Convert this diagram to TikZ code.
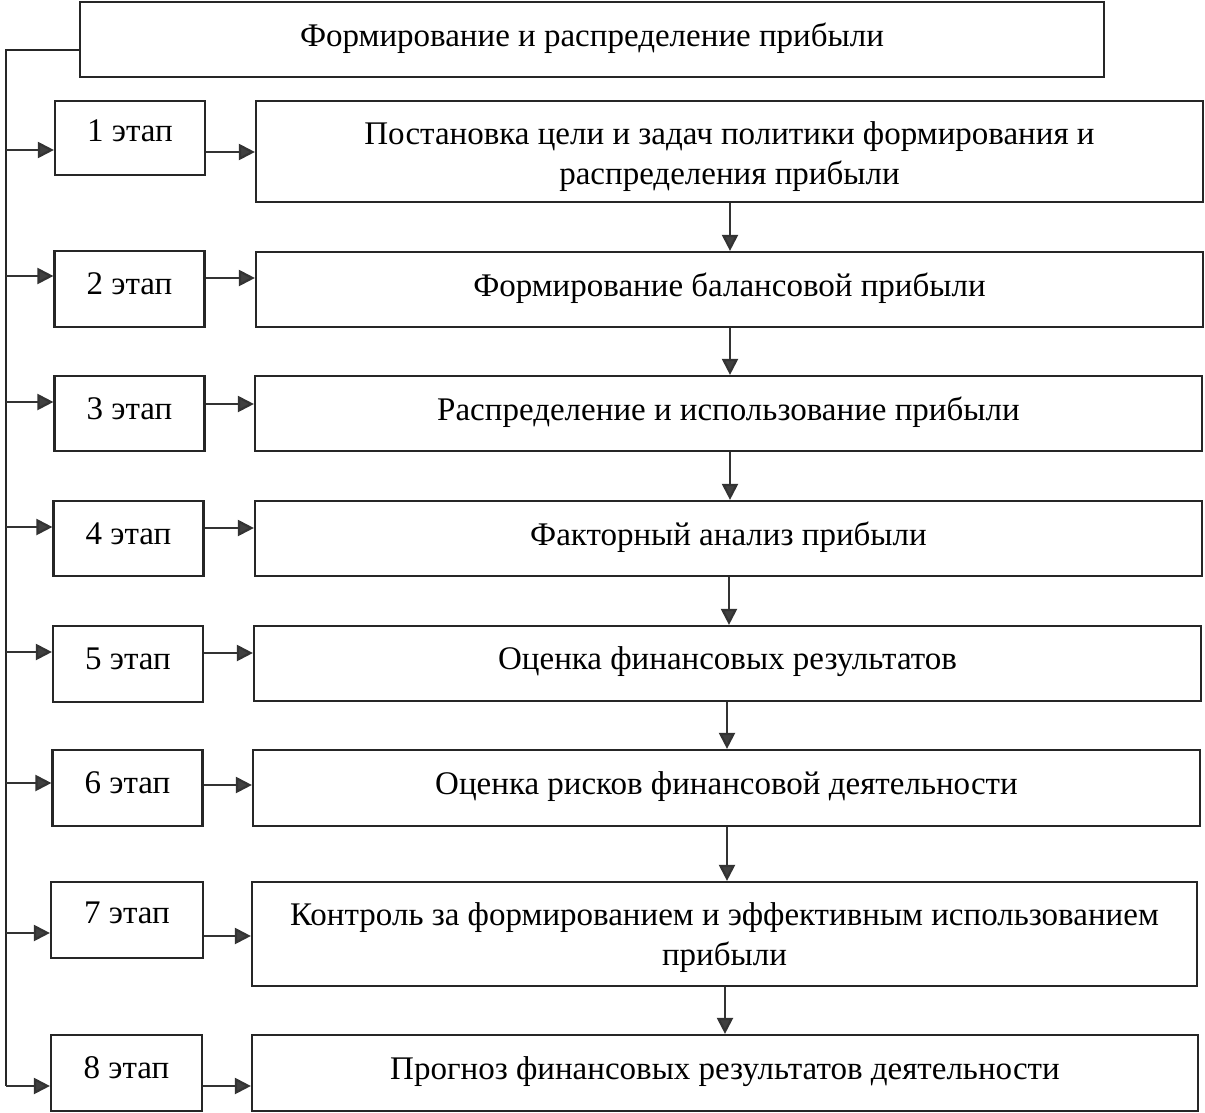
\documentclass[tikz,border=0pt]{standalone}
\usepackage{fontspec}
\setmainfont{Liberation Serif}
\usetikzlibrary{arrows.meta,calc}
\newcommand{\lowertext}[2]{\raisebox{-#1}[\height][\depth]{\begin{tabular}{@{}c@{}}#2\end{tabular}}}
\begin{document}
\begin{tikzpicture}[x=1pt,y=-1pt,
  box/.style={draw=black!85,line width=2.2pt,inner sep=0pt,font=\fontsize{33}{40}\selectfont,align=center},
  stagebox/.style={box,minimum width=150pt,minimum height=75pt},
  mainbox/.style={box,minimum width=947pt},
  arr/.style={line width=2.2pt,draw=black!80,-{Triangle[length=16pt,width=16pt,fill=black!75]}},
  ln/.style={line width=2.2pt,draw=black!85}]
\useasboundingbox (0,0) rectangle (1205,1113);
% top box
\node[box,minimum width=1024pt,minimum height=75pt] (top) at (592,39.5) {\raisebox{9pt}{Формирование и распределение прибыли}};
% stage boxes
\node[stagebox,minimum height=74pt] (s1) at (130,138) {\raisebox{14pt}{1 этап}};
\node[stagebox,minimum height=76pt] (s2) at (129.5,289) {\raisebox{10pt}{2 этап}};
\node[stagebox] (s3) at (129.5,413.5) {\raisebox{10pt}{3 этап}};
\node[stagebox] (s4) at (128.5,538.5) {\raisebox{10pt}{4 этап}};
\node[stagebox,minimum height=76pt] (s5) at (128,664) {\raisebox{10pt}{5 этап}};
\node[stagebox,minimum height=76pt] (s6) at (127.5,788) {\raisebox{10pt}{6 этап}};
\node[stagebox,minimum height=76pt,minimum width=152pt] (s7) at (127,920) {\raisebox{14pt}{7 этап}};
\node[stagebox,minimum height=76pt,minimum width=151pt] (s8) at (126.5,1073) {\raisebox{10pt}{8 этап}};
% main boxes
\node[mainbox,minimum height=101pt] (m1) at (729.5,151.5) {\lowertext{5pt}{Постановка цели и задач политики формирования и\\распределения прибыли}};
\node[mainbox,minimum height=75pt] (m2) at (729.5,289.5) {\raisebox{10pt}{Формирование балансовой прибыли}};
\node[mainbox,minimum height=75pt] (m3) at (728.5,413.5) {\raisebox{10pt}{Распределение и использование прибыли}};
\node[mainbox,minimum height=75pt] (m4) at (728.5,538.5) {\raisebox{10pt}{Факторный анализ прибыли}};
\node[mainbox,minimum height=75pt] (m5) at (727.5,663.5) {\raisebox{10pt}{Оценка финансовых результатов}};
\node[mainbox,minimum height=76pt] (m6) at (726.5,788) {\raisebox{10pt}{Оценка рисков финансовой деятельности}};
\node[mainbox,minimum height=104pt,minimum width=945pt] (m7) at (724.5,934) {\lowertext{3pt}{Контроль за формированием и эффективным использованием\\прибыли}};
\node[mainbox,minimum height=76pt,minimum width=946pt] (m8) at (725,1073) {\raisebox{10pt}{Прогноз финансовых результатов деятельности}};
% spine
\coordinate (t0) at (6,50);
\coordinate (j1) at (6,150);
\coordinate (j2) at (6,276);
\coordinate (j3) at (6,402);
\coordinate (j4) at (6,527);
\coordinate (j5) at (6,652);
\coordinate (j6) at (6,783);
\coordinate (j7) at (6,933);
\coordinate (j8) at (6,1086);
\draw[ln] (top.west |- t0) -- (t0) -- (j8);
\foreach \i in {1,...,8}{
  \draw[arr] (j\i) -- (j\i -| s\i.west);
}
% stage -> main
\draw[arr] (s1.east |- 0,152) -- (m1.west |- 0,152);
\draw[arr] (s2.east |- 0,278) -- (m2.west |- 0,278);
\draw[arr] (s3.east |- 0,404) -- (m3.west |- 0,404);
\draw[arr] (s4.east |- 0,528) -- (m4.west |- 0,528);
\draw[arr] (s5.east |- 0,653) -- (m5.west |- 0,653);
\draw[arr] (s6.east |- 0,785) -- (m6.west |- 0,785);
\draw[arr] (s7.east |- 0,936) -- (m7.west |- 0,936);
\draw[arr] (s8.east |- 0,1086) -- (m8.west |- 0,1086);
% main -> main
\draw[arr] (730,0 |- m1.south) -- (730,0 |- m2.north);
\draw[arr] (730,0 |- m2.south) -- (730,0 |- m3.north);
\draw[arr] (730,0 |- m3.south) -- (730,0 |- m4.north);
\draw[arr] (729,0 |- m4.south) -- (729,0 |- m5.north);
\draw[arr] (727,0 |- m5.south) -- (727,0 |- m6.north);
\draw[arr] (727,0 |- m6.south) -- (727,0 |- m7.north);
\draw[arr] (725,0 |- m7.south) -- (725,0 |- m8.north);
\end{tikzpicture}
\end{document}
